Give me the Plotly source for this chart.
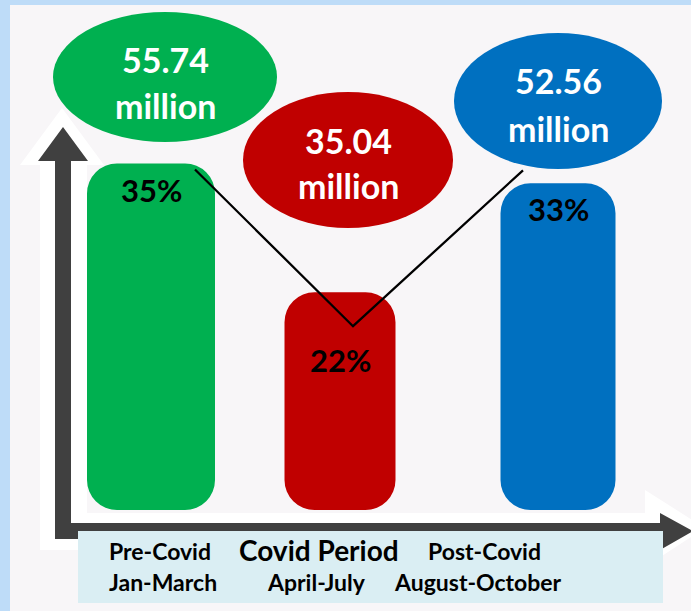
import plotly.graph_objects as go

W, H = 691, 611

# data
PERIODS = ["Pre-Covid", "Covid Period", "Post-Covid"]
MONTHS = ["Jan-March", "April-July", "August-October"]
SHARE_PCT = [35, 22, 33]
VISITORS_M = [55.74, 35.04, 52.56]
COLORS = ["#00B050", "#C00000", "#0070C0"]

# layout, in pixels of the 691x611 picture
BAR_X = [151, 340, 558]
BAR_W = [128, 111, 115]
BASE_PX = 510
PX_PER_PCT = 9.9
LABEL_DROP_PX = [28, 70, 28]
TREND_DX = [44, 13, -35]
TREND_DROP_PX = [6, 34, -13]
BUBBLES = [(165, 77, 112, 65), (348, 160, 105, 68), (558, 101, 104, 68)]
BUBBLE_TEXT_Y = [(62, 107), (142, 187), (83, 130)]
PERIOD_XY = [(160, 553), (319, 552), (484, 553)]
MONTH_XY = [(163, 584), (316, 584), (478, 584)]
TEXT_NUDGE = 2  # annotation boxes sit a little low

FONT = "Lato"
DARK = "#404040"


def py(p):
    """pixel row -> paper y"""
    return 1 - p / H


def poly(pts):
    return "M " + " L ".join(f"{x},{py(y)}" for x, y in pts) + " Z"


fig = go.Figure()

# explicit base -> both ends of the bar get rounded
fig.add_trace(go.Bar(
    x=BAR_X, y=SHARE_PCT, base=[0] * len(SHARE_PCT), width=BAR_W,
    marker=dict(color=COLORS, cornerradius=30, line_width=0),
    hoverinfo="skip", showlegend=False,
))

# trend line over the bars
fig.add_trace(go.Scatter(
    x=[b + d for b, d in zip(BAR_X, TREND_DX)],
    y=[v - d / PX_PER_PCT for v, d in zip(SHARE_PCT, TREND_DROP_PX)],
    mode="lines", line=dict(color="black", width=2.3),
    hoverinfo="skip", showlegend=False,
))

shapes = [
    # panel
    dict(type="rect", xref="x", yref="paper", x0=10, x1=W + 5, y0=py(H + 5), y1=py(5),
         fillcolor="#F8F6F8", line_width=0, layer="below"),
    # white glow behind the axes
    dict(type="path", xref="x", yref="paper",
         path=poly([(40, 165), (40, 550), (645, 550), (645, 567), (705, 528),
                    (645, 490), (645, 513), (87, 513), (87, 165), (104, 165), (62, 108), (20, 165)]),
         fillcolor="white", line_width=0, layer="below"),
    # dark axis arrows
    dict(type="path", xref="x", yref="paper",
         path=poly([(55, 161), (55, 539), (660, 539), (660, 550), (693, 531),
                    (660, 513), (660, 523), (71, 523), (71, 161), (88, 161), (63, 127), (38, 161)]),
         fillcolor=DARK, line_width=0, layer="below"),
    # label box
    dict(type="rect", xref="x", yref="paper", x0=78, x1=663, y0=py(603), y1=py(531),
         fillcolor="#DAEEF3", line_width=0, layer="below"),
]
for (cx, cy, rx, ry), col in zip(BUBBLES, COLORS):
    shapes.append(dict(type="circle", xref="x", yref="paper",
                       x0=cx - rx, x1=cx + rx, y0=py(cy + ry), y1=py(cy - ry),
                       fillcolor=col, line_width=0, layer="below"))

annotations = []
for (cx, _, _, _), (y1, y2), v in zip(BUBBLES, BUBBLE_TEXT_Y, VISITORS_M):
    for txt, yy in [(f"{v:.2f}", y1), ("million", y2)]:
        annotations.append(dict(x=cx, y=py(yy - TEXT_NUDGE), xref="x", yref="paper", text=txt,
                                showarrow=False, yanchor="middle",
                                font=dict(family=FONT, size=34, color="white", weight="bold")))

for bx, v, d in zip(BAR_X, SHARE_PCT, LABEL_DROP_PX):
    annotations.append(dict(x=bx, y=v, xref="x", yref="y", yshift=TEXT_NUDGE - d, text=f"{v}%",
                            showarrow=False, yanchor="middle",
                            font=dict(family=FONT, size=31, color="black", weight="bold")))

for i, (name, (x, y)) in enumerate(zip(PERIODS, PERIOD_XY)):
    annotations.append(dict(x=x, y=py(y - TEXT_NUDGE), xref="x", yref="paper", text=name,
                            showarrow=False, yanchor="middle",
                            font=dict(family=FONT, size=28 if i == 1 else 23,
                                      color="black", weight="bold")))
for name, (x, y) in zip(MONTHS, MONTH_XY):
    annotations.append(dict(x=x, y=py(y - TEXT_NUDGE), xref="x", yref="paper", text=name,
                            showarrow=False, yanchor="middle",
                            font=dict(family=FONT, size=23, color="black", weight="bold")))

fig.update_layout(
    width=W, height=H, autosize=False,
    margin=dict(l=0, r=0, t=0, b=0),
    paper_bgcolor="#BEDCF8", plot_bgcolor="rgba(0,0,0,0)",
    barmode="overlay",
    xaxis=dict(range=[0, W], visible=False, fixedrange=True),
    yaxis=dict(range=[-(H - BASE_PX) / PX_PER_PCT, BASE_PX / PX_PER_PCT],
               visible=False, fixedrange=True),
    shapes=shapes, annotations=annotations,
)

# the page's default 8px body margin would shift the figure
fig.write_html("out.html", post_script="document.body.style.margin='0';",
               config={"displayModeBar": False})
